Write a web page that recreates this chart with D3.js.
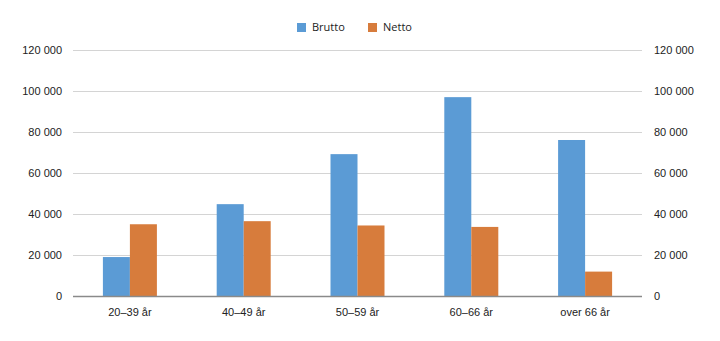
<!DOCTYPE html>
<html>
<head>
<meta charset="utf-8">
<script src="https://cdn.jsdelivr.net/npm/d3@7"></script>
<style>
  body { margin: 0; background: #fff; }
  svg { display: block; font-family: "Open Sans", sans-serif; }
  .axis text { font-size: 11px; fill: #222; }
  .axis path, .axis line { display: none; }
</style>
</head>
<body>
<svg id="chart" width="720" height="341"></svg>
<script>
var categories = ["20–39 år", "40–49 år", "50–59 år", "60–66 år", "over 66 år"];
var seriesNames = ["Brutto", "Netto"];
var brutto = [19000, 44800, 69200, 97000, 76100];
var netto = [35000, 36500, 34400, 33700, 11900];
var yTicks = [0, 20000, 40000, 60000, 80000, 100000, 120000];

var colors = {"Brutto": "#5b9bd5", "Netto": "#d77c3c"};

var svg = d3.select("#chart");
var plot = {left: 73, right: 642, top: 50, bottom: 296};

var rows = categories.map(function (c, i) {
    return {cat: c, values: [{key: "Brutto", v: brutto[i]}, {key: "Netto", v: netto[i]}]};
});

var yScale = d3.scaleLinear().domain([0, 120000]).range([plot.bottom, plot.top]);
var xScale = d3.scaleBand().domain(categories).range([plot.left, plot.right]).padding(0);
var bw = xScale.bandwidth();
var x1 = d3.scaleBand().domain(seriesNames).range([bw / 2 - 27, bw / 2 + 27]).padding(0);

var fmt = function (d) { return d3.format(",")(d).replace(/,/g, " "); };

// gridlines
svg.append("g")
    .selectAll("line")
    .data(yTicks.filter(function (d) { return d > 0; }))
    .enter()
    .append("line")
    .attr("x1", plot.left)
    .attr("x2", plot.right)
    .attr("y1", function (d) { return Math.round(yScale(d)) + 0.5; })
    .attr("y2", function (d) { return Math.round(yScale(d)) + 0.5; })
    .attr("stroke", "#d4d4d4")
    .attr("stroke-width", 1);

// bars
var groups = svg.append("g")
    .selectAll("g")
    .data(rows)
    .enter()
    .append("g")
    .attr("transform", function (d) { return "translate(" + xScale(d.cat) + ",0)"; });

groups.selectAll("rect")
    .data(function (d) { return d.values; })
    .enter()
    .append("rect")
    .attr("x", function (d) { return x1(d.key); })
    .attr("width", x1.bandwidth())
    .attr("y", function (d) { return yScale(d.v); })
    .attr("height", function (d) { return plot.bottom - yScale(d.v); })
    .attr("fill", function (d) { return colors[d.key]; });

// baseline
svg.append("line")
    .attr("x1", plot.left)
    .attr("x2", plot.right)
    .attr("y1", plot.bottom + 0.5)
    .attr("y2", plot.bottom + 0.5)
    .attr("stroke", "#8a8a8a")
    .attr("stroke-width", 1.5);

// left and right value axes
svg.append("g")
    .attr("class", "axis")
    .attr("transform", "translate(" + (plot.left - 11) + ",0)")
    .call(d3.axisLeft(yScale).tickValues(yTicks).tickFormat(fmt).tickSize(0).tickPadding(0));

svg.append("g")
    .attr("class", "axis")
    .attr("transform", "translate(" + (plot.right + 12) + ",0)")
    .call(d3.axisRight(yScale).tickValues(yTicks).tickFormat(fmt).tickSize(0).tickPadding(0));

// category axis
svg.append("g")
    .attr("class", "axis")
    .attr("transform", "translate(0," + (plot.bottom + 12) + ")")
    .call(d3.axisBottom(xScale).tickSize(0).tickPadding(0));

// legend
var legend = svg.append("g").attr("transform", "translate(297,23)");
var items = legend.selectAll("g")
    .data(seriesNames)
    .enter()
    .append("g")
    .attr("transform", function (d, i) { return "translate(" + (i * 71) + ",0)"; });

items.append("rect")
    .attr("width", 9)
    .attr("height", 9)
    .attr("fill", function (d) { return colors[d]; });

items.append("text")
    .attr("x", 15)
    .attr("y", 4.5)
    .attr("dy", "0.35em")
    .style("font-size", "11px")
    .attr("fill", "#222")
    .text(function (d) { return d; });
</script>
</body>
</html>
